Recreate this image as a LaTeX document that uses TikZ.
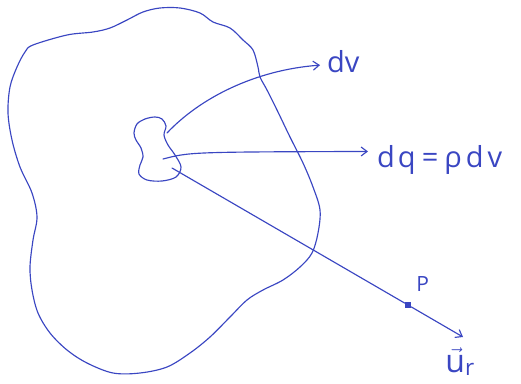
\documentclass[tikz,border=0pt]{standalone}
\usepackage{fontspec}
\setsansfont{Open Sans}
\usepackage{xcolor}
\usepackage{tikz}
\usetikzlibrary{arrows,arrows.meta,positioning,calc}
\definecolor{penblue}{HTML}{3A46C2}

\begin{document}
\begin{tikzpicture}[x=1pt, y=-1pt,
  pen/.style={penblue, line width=1.15pt, line cap=round, line join=round},
  ray/.style={pen, -{Straight Barb[length=6pt, width=9pt]}},
  hand/.style={penblue, inner sep=0pt, font=\sffamily\fontsize{29}{29}\selectfont}]
\useasboundingbox (0,0) rectangle (521,383);
% charged region
\draw[pen] plot[smooth cycle, tension=0.55] coordinates {
  (33,45) (67,35) (93,32) (110,28) (127,20) (143,12) (160,8) (180,8) (200,13)
  (213,22) (230,28) (243,40) (253,50) (258,67) (260,77) (267,90) (277,110)
  (290,137) (303,163) (313,187) (320,210) (318,233) (312,253) (300,267)
  (283,280) (263,290) (247,300) (230,317) (210,337) (190,353) (167,367)
  (140,373) (113,373) (87,363) (67,350) (50,333) (38,313) (32,290) (30,267)
  (33,240) (37,217) (32,193) (20,167) (12,140) (8,113) (10,87) (17,67) (25,52)};
% volume element
\draw[pen] plot[smooth cycle, tension=0.55] coordinates {
  (134,133) (137,124) (145,119) (155,117) (162,119) (166,126) (164,135)
  (168,145) (175,155) (181,167) (176,177) (162,181) (147,180) (139,174)
  (140,165) (143,157) (141,148) (136,140)};
\coordinate (eltop) at (167,133);
\coordinate (elmid) at (163,159);
\coordinate (ellow) at (172,168);
% labels
\node[hand, anchor=base west] (dv) at (327,72) {dv};
\node[hand, anchor=base west] (dq) at (377,167) {d\kern3pt q\kern6pt=\kern6pt ρ\kern4pt d\kern4pt v};
\node[fill=penblue, minimum size=6pt, inner sep=0pt] (p) at (408,305) {};
\node[hand, font=\sffamily\fontsize{21}{21}\selectfont, above right=10pt and 5pt of p] (plbl) {P};
\coordinate (uend) at (463,337);
\node[hand, font=\sffamily\fontsize{32}{32}\selectfont] (ur) at (460,362) {$\vec{\mathsf{u}}_{\mathsf{r}}$};
% arrows
\draw[ray] (eltop) .. controls (200,98) and (255,70) .. ([xshift=-7pt, yshift=-4pt]dv.west);
\draw[ray] (elmid) .. controls (190,152) .. ([xshift=-9pt, yshift=8pt]dq.west);
\draw[pen] (ellow) -- (p);
\draw[ray] (p) -- (uend);
\end{tikzpicture}
\end{document}
